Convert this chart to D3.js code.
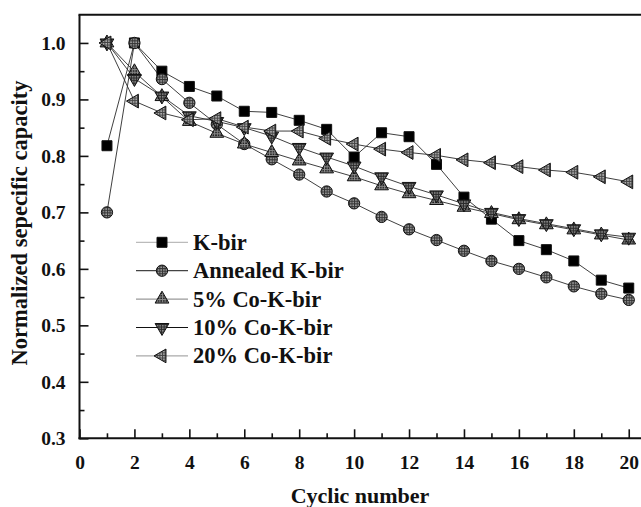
<!DOCTYPE html>
<html>
<head>
<meta charset="utf-8">
<script src="https://cdn.jsdelivr.net/npm/d3@7/dist/d3.min.js"></script>
<style>
  html, body { margin: 0; padding: 0; background: #fff; }
  svg { display: block; }
  svg text { font-family: "Liberation Serif", Tinos, "Times New Roman", serif !important; font-weight: 700; fill: #111; }
</style>
</head>
<body>
<script>
// Cycle numbers and normalized capacity for each sample
const cycles = [1, 2, 3, 4, 5, 6, 7, 8, 9, 10, 11, 12, 13, 14, 15, 16, 17, 18, 19, 20];
const kBir = [0.818, 1.0, 0.950, 0.923, 0.906, 0.879, 0.877, 0.863, 0.847, 0.798, 0.841, 0.834, 0.785, 0.727, 0.688, 0.650, 0.634, 0.614, 0.580, 0.566];
const annealedKBir = [0.700, 1.0, 0.936, 0.894, 0.856, 0.821, 0.794, 0.767, 0.737, 0.716, 0.692, 0.670, 0.651, 0.632, 0.614, 0.600, 0.585, 0.569, 0.556, 0.545];
const co5KBir = [1.0, 0.949, 0.905, 0.861, 0.840, 0.821, 0.806, 0.791, 0.777, 0.763, 0.747, 0.733, 0.721, 0.709, 0.698, 0.687, 0.678, 0.669, 0.660, 0.651];
const co10KBir = [1.0, 0.937, 0.906, 0.871, 0.861, 0.850, 0.835, 0.815, 0.798, 0.782, 0.763, 0.746, 0.731, 0.715, 0.700, 0.689, 0.680, 0.671, 0.662, 0.656];
const co20KBir = [1.0, 0.897, 0.876, 0.864, 0.866, 0.851, 0.844, 0.844, 0.831, 0.821, 0.812, 0.806, 0.801, 0.793, 0.788, 0.781, 0.775, 0.771, 0.763, 0.754];
const seriesNames = ["K-bir", "Annealed K-bir", "5% Co-K-bir", "10% Co-K-bir", "20% Co-K-bir"];
const xTickValues = [0, 2, 4, 6, 8, 10, 12, 14, 16, 18, 20];
const yTickValues = [0.3, 0.4, 0.5, 0.6, 0.7, 0.8, 0.9, 1.0];
const xTitle = "Cyclic number";
const yTitle = "Normalized sepecific capacity";

const W = 641, H = 507;
const svg = d3.select("body").append("svg").attr("width", W).attr("height", H);

const x = d3.scaleLinear().domain([0, 21]).range([79.5, 656.2]);
const y = d3.scaleLinear().domain([0.3, 1.05]).range([438.3, 14.7]);

// hatch fills for the markers
const defs = svg.append("defs");
function hatch(id, base, line, step) {
  const p = defs.append("pattern").attr("id", id).attr("patternUnits", "userSpaceOnUse")
    .attr("width", step).attr("height", step);
  p.append("rect").attr("width", step).attr("height", step).attr("fill", base);
  p.append("path").attr("d", `M0,0.5H${step}M0.5,0V${step}`).attr("stroke", line).attr("stroke-width", 1);
}
hatch("hCircle", "#a0a0a0", "#333", 2.6);
hatch("hUp", "#1a1a1a", "#8a8a8a", 2.6);
hatch("hDown", "#8a8a8a", "#2a2a2a", 2.6);
hatch("hLeft", "#b4b4b4", "#444", 2.6);

const series = [
  { name: seriesNames[0], values: kBir,         type: d3.symbolSquare,   size: 100, rot: 0,   fill: "#000",          legendLine: "#bbb" },
  { name: seriesNames[1], values: annealedKBir, type: d3.symbolCircle,   size: 100, rot: 0,   fill: "url(#hCircle)", legendLine: "#444" },
  { name: seriesNames[2], values: co5KBir,      type: d3.symbolTriangle, size: 82,  rot: 0,   fill: "url(#hUp)",     legendLine: "#999" },
  { name: seriesNames[3], values: co10KBir,     type: d3.symbolTriangle, size: 82,  rot: 180, fill: "url(#hDown)",   legendLine: "#111" },
  { name: seriesNames[4], values: co20KBir,     type: d3.symbolTriangle, size: 82,  rot: -90, fill: "url(#hLeft)",   legendLine: "#aaa" }
];

// axes frame: left, bottom, top
const frame = svg.append("g").attr("stroke", "#111").attr("stroke-width", 2).attr("fill", "none");
frame.append("line").attr("x1", x(0)).attr("x2", x(0)).attr("y1", y(1.05)).attr("y2", y(0.3) + 1);
frame.append("line").attr("x1", x(0) - 1).attr("x2", W + 20).attr("y1", y(0.3)).attr("y2", y(0.3));
frame.append("line").attr("x1", x(0) - 1).attr("x2", W + 20).attr("y1", y(1.05)).attr("y2", y(1.05));

// bottom axis: inward ticks, even numbers labeled
const xAxis = d3.axisBottom(x).tickValues(xTickValues).tickSize(-9).tickPadding(17).tickFormat(d3.format("d"));
svg.append("g").attr("transform", `translate(0,${y(0.3)})`).call(xAxis);
const xMinor = d3.axisBottom(x).tickValues(d3.range(1, 21, 2)).tickSize(-5).tickFormat("");
svg.append("g").attr("transform", `translate(0,${y(0.3)})`).call(xMinor);

// left axis
const yAxis = d3.axisLeft(y).tickValues(yTickValues).tickSize(-9).tickPadding(14).tickFormat(d3.format(".1f"));
svg.append("g").attr("transform", `translate(${x(0)},0)`).call(yAxis);
const yMinor = d3.axisLeft(y).tickValues(d3.range(0.35, 1.05, 0.1)).tickSize(-5).tickFormat("");
svg.append("g").attr("transform", `translate(${x(0)},0)`).call(yMinor);

svg.selectAll(".domain").remove();
svg.selectAll(".tick line").attr("stroke", "#111").attr("stroke-width", 1.6);
svg.selectAll(".tick text").attr("font-family", null).attr("font-size", null)
  .style("font-size", "19.5px").attr("fill", "#111");

// axis titles
svg.append("text").attr("x", 360).attr("y", 503).attr("text-anchor", "middle")
  .style("font-size", "22px").text(xTitle);
svg.append("text").attr("transform", `translate(27,223) rotate(-90)`).attr("text-anchor", "middle")
  .style("font-size", "22.5px").text(yTitle);

// series lines
const line = d3.line().x((d, i) => x(cycles[i])).y(d => y(d));
series.forEach(s => {
  svg.append("path").datum(s.values).attr("d", line)
    .attr("fill", "none").attr("stroke", "#2a2a2a").attr("stroke-width", 0.9);
});

// markers
function marker(g, s, cx, cy) {
  g.append("path")
    .attr("d", d3.symbol().type(s.type).size(s.size)())
    .attr("transform", `translate(${cx},${cy}) rotate(${s.rot})`)
    .attr("fill", s.fill).attr("stroke", "#111").attr("stroke-width", 1);
}
series.forEach(s => {
  const g = svg.append("g");
  s.values.forEach((v, i) => marker(g, s, x(cycles[i]), y(v)));
});

// legend
const legend = svg.append("g");
const rowY = [242.3, 270.7, 299.1, 327.5, 355.9];
series.forEach((s, i) => {
  const yy = rowY[i];
  legend.append("line").attr("x1", 136).attr("x2", 188).attr("y1", yy).attr("y2", yy)
    .attr("stroke", s.legendLine).attr("stroke-width", 1.2);
  marker(legend, s, 162, yy);
  legend.append("text").attr("x", 193).attr("y", yy + 7.5).style("font-size", "22.5px").text(s.name);
});
</script>
</body>
</html>
